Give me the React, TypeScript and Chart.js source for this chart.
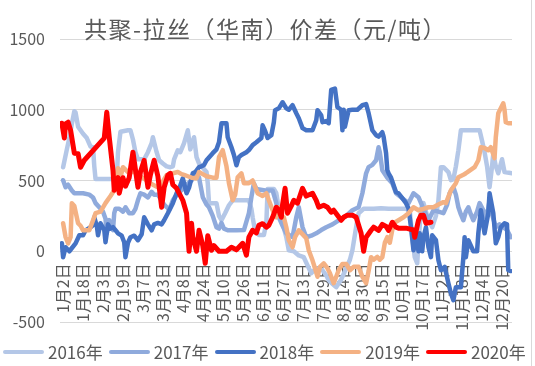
import React, { useEffect, useRef } from "react";
import { Chart, registerables } from "chart.js";

Chart.register(...registerables);

const TITLE = "共聚-拉丝（华南）价差（元/吨）";
const seriesNames = ["2016年", "2017年", "2018年", "2019年", "2020年"];
const seriesColors = ["#B4C7E7", "#8FAADC", "#4472C4", "#F4B183", "#FF0000"];
const xTickDays = [1, 17, 33, 49, 65, 81, 97, 113, 129, 145, 161, 177, 193, 209, 225, 241, 257, 273, 289, 305, 321, 337, 353];
const xTickLabels = ["1月2日", "1月18日", "2月3日", "2月19日", "3月7日", "3月23日", "4月8日", "4月24日", "5月10日", "5月26日", "6月11日", "6月27日", "7月13日", "7月29日", "8月14日", "8月30日", "9月15日", "10月1日", "10月17日", "11月2日", "11月18日", "12月4日", "12月20日"];
const yTicks = [-500, 0, 500, 1000, 1500];

// [day of year (0 = 1月1日), value]
const s2016: [number, number][] = [[1,594],[4,720],[6,800],[8,900],[10,990],[11,980],[13,880],[15,855],[17,830],[20,800],[23,740],[25,735],[26,600],[27,510],[44,510],[45,700],[47,845],[53,855],[55,855],[57,790],[59,700],[61,650],[66,650],[69,700],[72,764],[73,806],[76,700],[78,643],[81,620],[84,600],[87,594],[89,600],[90,650],[93,714],[95,700],[98,764],[101,855],[103,720],[106,806],[108,665],[110,620],[113,590],[116,560],[117,481],[118,340],[124,340],[126,250],[128,219],[131,270],[134,325],[137,360],[145,360],[150,360],[152,300],[153,240],[155,140],[158,115],[162,115],[164,200],[165,440],[170,440],[172,410],[174,300],[177,198],[180,100],[182,7],[186,0],[190,-30],[194,-42],[197,-100],[200,-155],[204,-120],[209,-134],[212,-170],[214,-205],[217,-230],[220,-254],[224,-200],[228,-120],[231,-60],[233,7],[236,170],[238,269],[242,300],[250,300],[256,304],[262,300],[270,300],[276,300],[279,290],[281,100],[283,-42],[285,-85],[286,60],[288,300],[290,340],[292,280],[294,219],[297,170],[300,250],[302,360],[304,594],[306,594],[310,560],[312,502],[314,510],[316,600],[318,714],[320,855],[335,855],[337,780],[339,700],[341,600],[343,452],[345,600],[346,693],[348,600],[350,551],[353,650],[355,560],[361,551]];
const s2017: [number, number][] = [[1,502],[3,452],[5,470],[8,430],[10,410],[17,410],[22,400],[25,380],[27,340],[30,311],[33,280],[35,230],[36,127],[38,220],[39,170],[41,150],[42,269],[43,300],[46,300],[49,280],[51,311],[54,269],[57,269],[59,300],[61,360],[63,410],[66,400],[69,380],[72,420],[74,400],[77,400],[80,360],[82,330],[85,304],[86,290],[89,360],[92,400],[94,417],[97,440],[100,470],[104,500],[106,540],[108,551],[110,520],[113,382],[116,330],[118,311],[121,250],[124,170],[126,160],[128,200],[130,160],[133,148],[140,148],[146,150],[150,269],[152,382],[154,480],[156,440],[163,430],[169,430],[172,340],[174,240],[177,180],[180,127],[185,100],[188,240],[190,311],[193,170],[196,99],[200,110],[204,127],[208,150],[212,170],[217,190],[222,219],[228,250],[233,290],[238,311],[241,410],[244,551],[246,594],[249,610],[252,643],[254,735],[255,700],[257,573],[261,520],[265,481],[268,410],[273,375],[278,340],[282,410],[286,382],[290,300],[294,219],[298,290],[302,280],[306,269],[309,330],[311,410],[314,452],[316,400],[318,311],[320,260],[322,219],[324,280],[326,311],[328,260],[330,219],[333,280],[335,340],[338,290],[340,240],[342,300],[343,360],[345,260],[348,170],[351,190],[354,170],[357,150],[360,99]];
const s2018: [number, number][] = [[0,56],[1,-42],[3,28],[6,0],[11,56],[14,113],[17,113],[19,148],[23,170],[25,184],[26,240],[28,180],[29,113],[31,198],[34,150],[35,64],[37,190],[39,160],[41,170],[45,127],[48,110],[50,64],[51,-42],[53,60],[55,99],[58,110],[61,78],[64,120],[66,240],[69,190],[72,148],[74,190],[77,200],[80,190],[82,219],[85,269],[89,340],[92,410],[94,440],[97,516],[100,410],[102,450],[105,551],[107,560],[110,594],[112,600],[114,610],[116,643],[121,693],[124,720],[126,770],[128,905],[132,905],[133,806],[136,735],[138,680],[140,608],[142,665],[144,680],[148,700],[150,715],[153,750],[156,770],[160,800],[161,890],[163,850],[165,800],[168,820],[170,912],[171,997],[174,1010],[177,1053],[180,1010],[182,1000],[185,1032],[188,975],[190,940],[193,870],[196,855],[201,855],[204,926],[205,997],[208,960],[209,912],[212,920],[214,905],[216,1140],[219,1150],[221,1018],[224,1000],[225,855],[226,1000],[227,880],[230,997],[233,1000],[237,1000],[241,1032],[244,1040],[246,976],[249,855],[252,820],[254,810],[257,841],[258,810],[260,693],[261,573],[262,551],[264,520],[268,417],[270,410],[273,375],[276,340],[278,304],[280,170],[282,7],[284,113],[286,0],[287,127],[289,0],[290,99],[292,170],[294,28],[296,-42],[297,113],[300,78],[302,-64],[304,-134],[307,-110],[310,-226],[312,-297],[314,-346],[316,-254],[320,-254],[322,-42],[323,99],[324,-42],[326,78],[330,0],[333,0],[334,127],[336,290],[339,127],[342,269],[343,410],[346,269],[348,56],[350,100],[352,170],[355,198],[357,190],[358,-134],[360,-140]];
const s2019: [number, number][] = [[1,198],[3,99],[5,56],[7,100],[8,340],[10,320],[13,198],[15,180],[17,148],[22,148],[25,219],[27,269],[31,280],[35,340],[39,390],[42,431],[45,587],[47,523],[49,594],[53,560],[58,560],[63,530],[68,500],[73,470],[77,452],[80,480],[84,537],[89,551],[93,560],[96,545],[98,540],[101,530],[104,520],[108,516],[110,560],[113,545],[116,530],[121,520],[124,520],[126,665],[129,714],[132,600],[134,481],[137,360],[139,400],[141,523],[144,551],[146,480],[150,481],[153,500],[157,410],[161,390],[164,410],[166,360],[169,290],[172,240],[174,311],[176,240],[178,240],[180,170],[182,78],[185,28],[187,100],[190,148],[192,130],[196,92],[198,7],[201,-64],[203,-120],[205,-180],[207,-110],[210,-85],[213,-120],[215,-155],[218,-226],[220,-180],[222,-134],[225,-90],[228,-90],[231,-134],[234,-110],[238,-110],[241,-180],[244,-226],[246,-140],[248,-42],[250,-60],[253,-40],[255,-60],[257,-42],[259,60],[261,100],[263,60],[266,198],[270,219],[274,240],[278,269],[282,311],[286,290],[290,300],[294,311],[298,311],[302,330],[306,347],[308,340],[312,431],[316,481],[318,523],[322,540],[324,551],[327,570],[331,594],[334,643],[336,735],[339,730],[342,714],[344,735],[347,658],[348,806],[350,976],[354,1046],[355,1000],[356,912],[358,905],[361,905]];
const s2020: [number, number][] = [[0,905],[2,800],[3,900],[5,912],[7,855],[10,693],[13,690],[15,594],[18,643],[34,800],[36,983],[38,806],[41,573],[42,431],[45,520],[46,410],[49,520],[51,460],[54,520],[57,700],[61,453],[63,560],[66,643],[69,453],[71,540],[74,643],[77,530],[80,311],[82,450],[85,537],[87,551],[89,470],[92,445],[94,410],[97,360],[100,269],[101,127],[102,0],[104,198],[105,100],[108,0],[110,148],[113,40],[115,-85],[117,110],[120,7],[122,40],[126,0],[132,0],[136,28],[140,10],[145,56],[148,-28],[150,100],[153,148],[156,130],[158,184],[161,195],[164,170],[166,184],[169,240],[172,311],[174,290],[176,240],[177,330],[179,445],[181,269],[184,320],[186,360],[189,340],[193,445],[196,390],[201,410],[204,360],[206,311],[210,325],[213,311],[216,276],[218,290],[221,255],[224,219],[226,240],[229,255],[233,255],[236,240],[240,127],[242,0],[244,99],[248,148],[250,170],[254,148],[257,190],[260,175],[262,148],[265,205],[268,170],[270,163],[276,163],[282,150],[283,99],[286,219],[288,255],[290,255],[292,198],[296,205]];

const allSeries = [s2016, s2017, s2018, s2019, s2020];
const FONT = "'Noto Sans CJK SC', 'Noto Sans', sans-serif";
const TEXT_COLOR = "#595959";

const decorPlugin = {
  id: "decor",
  beforeDraw(chart: any) {
    const ctx = chart.ctx;
    ctx.save();
    ctx.fillStyle = "#ffffff";
    ctx.fillRect(0, 0, chart.width, chart.height);
    ctx.restore();
  },
  afterDraw(chart: any) {
    const ctx = chart.ctx;
    ctx.save();
    ctx.font = `23px ${FONT}`;
    try {
      (ctx as any).letterSpacing = "1.5px";
    } catch (e) {}
    ctx.fillStyle = TEXT_COLOR;
    ctx.textBaseline = "middle";
    ctx.textAlign = "left";
    ctx.fillText(TITLE, 84, 29);
    ctx.restore();
    ctx.save();
    ctx.strokeStyle = "#d9d9d9";
    ctx.lineWidth = 1;
    ctx.beginPath();
    ctx.moveTo(531.5, 0);
    ctx.lineTo(531.5, chart.height);
    ctx.stroke();
    ctx.restore();
  },
};

export default function App() {
  const ref = useRef<HTMLCanvasElement | null>(null);
  useEffect(() => {
    if (!ref.current) return;
    const n = allSeries.length;
    const chart = new Chart(ref.current, {
      type: "line",
      data: {
        datasets: allSeries.map((s, i) => ({
          label: seriesNames[i],
          data: s.map(([d, v]) => ({ x: d, y: v })),
          borderColor: seriesColors[i],
          backgroundColor: seriesColors[i],
          borderWidth: i === 4 ? 5 : 4.5,
          pointRadius: 0,
          tension: 0,
          borderCapStyle: "round",
          borderJoinStyle: "round",
          order: n - 1 - i,
        })),
      },
      options: {
        responsive: false,
        animation: false,
        events: [],
        layout: { padding: { top: 39, right: 23, left: 0, bottom: 44 } },
        scales: {
          x: {
            type: "linear",
            min: -1.5,
            max: 361,
            position: { y: 0 } as any,
            grid: { display: false, drawTicks: false },
            border: { display: false },
            afterBuildTicks: (scale: any) => {
              scale.ticks = xTickDays.map((v) => ({ value: v }));
            },
            ticks: {
              autoSkip: false,
              minRotation: 90,
              maxRotation: 90,
              padding: 12,
              color: TEXT_COLOR,
              font: { size: 16, family: FONT },
              callback: (value: any) => {
                const k = xTickDays.indexOf(Number(value));
                return k >= 0 ? xTickLabels[k] : "";
              },
            },
          },
          y: {
            min: -500,
            max: 1500,
            afterBuildTicks: (scale: any) => {
              scale.ticks = yTicks.map((v) => ({ value: v }));
            },
            afterFit: (scale: any) => {
              scale.width = 60;
            },
            grid: { color: "#d9d9d9", lineWidth: 1, drawTicks: false },
            border: { display: false },
            ticks: {
              padding: 15,
              color: TEXT_COLOR,
              font: { size: 16, family: FONT },
              callback: (value: any) => String(value),
            },
          },
        },
        plugins: {
          title: { display: false },
          tooltip: { enabled: false },
          legend: { display: false },
        },
      },
      plugins: [decorPlugin],
    } as any);
    return () => chart.destroy();
  }, []);
  return (
    <div style={{ position: "fixed", left: 0, top: 0, width: 535, height: 366, background: "#fff" }}>
      <canvas ref={ref} width={535} height={366} style={{ display: "block", width: 535, height: 366 }} />
      <div
        style={{
          position: "absolute",
          left: 3,
          top: 343,
          display: "flex",
          alignItems: "center",
          gap: 6,
          fontFamily: FONT,
          fontSize: 17,
          lineHeight: "18px",
          color: TEXT_COLOR,
          whiteSpace: "nowrap",
        }}
      >
        {seriesNames.map((name, i) => (
          <div key={name} style={{ display: "flex", alignItems: "center", gap: 4 }}>
            <span
              style={{
                display: "inline-block",
                width: 41,
                height: 4.5,
                borderRadius: 2.5,
                background: seriesColors[i],
              }}
            />
            <span>{name}</span>
          </div>
        ))}
      </div>
    </div>
  );
}
